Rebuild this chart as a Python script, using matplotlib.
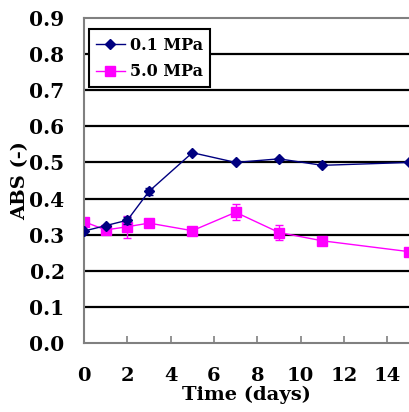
import matplotlib
matplotlib.use("Agg")
import matplotlib.pyplot as plt
from matplotlib.lines import Line2D

# данные
days_lo = [0, 1, 2, 3, 5, 7, 9, 11, 15]
abs_lo = [0.31, 0.325, 0.34, 0.42, 0.527, 0.50, 0.51, 0.492, 0.50]
err_lo = [0, 0, 0.01, 0.01, 0, 0, 0, 0, 0]

days_hi = [0, 1, 2, 3, 5, 7, 9, 11, 15]
abs_hi = [0.336, 0.313, 0.322, 0.332, 0.311, 0.362, 0.306, 0.283, 0.253]
err_hi = [0, 0, 0.03, 0, 0, 0.022, 0.02, 0, 0]

yticks = [0.0, 0.1, 0.2, 0.3, 0.4, 0.5, 0.6, 0.7, 0.8, 0.9]
xticks = [0, 2, 4, 6, 8, 10, 12, 14]

plt.rcParams["font.family"] = ["DejaVu Serif"]
plt.rcParams["font.weight"] = "bold"

fig = plt.figure(figsize=(4.09, 4.12), dpi=100)
ax = fig.add_axes([84 / 409, 1 - 343 / 412, 1 - 84 / 409, (343 - 18) / 412])

for y in yticks[1:-1]:
    ax.axhline(y, color="black", lw=1.6, zorder=1)

ax.errorbar(days_lo, abs_lo, yerr=err_lo, color="#000080", marker="D", ms=5,
            lw=1.0, capsize=3, elinewidth=1, zorder=3)
ax.errorbar(days_hi, abs_hi, yerr=err_hi, color="#FF00FF", marker="s", ms=7,
            lw=1.0, capsize=3, elinewidth=1, zorder=2)

ax.set_xlim(0, 15)
ax.set_ylim(0, 0.9)
ax.set_yticks(yticks)
ax.set_yticklabels([f"{v:.1f}" for v in yticks], fontsize=14.5, fontweight="bold")
ax.set_xticks(xticks)
ax.set_xticklabels([str(v) for v in xticks], fontsize=14, fontweight="bold")
ax.tick_params(axis="x", direction="in", length=5, width=1.2, color="0.5", pad=17)
ax.tick_params(axis="y", length=0, pad=14)

for side in ("left", "bottom", "top"):
    ax.spines[side].set_color("0.5")
    ax.spines[side].set_linewidth(1.5)
ax.spines["right"].set_visible(False)

ax.set_xlabel("Time (days)", fontsize=14, fontweight="bold", labelpad=1)
ax.set_ylabel("ABS (-)", fontsize=14, fontweight="bold", labelpad=0)

handles = [
    Line2D([], [], color="#000080", marker="D", ms=5, lw=1.0),
    Line2D([], [], color="#FF00FF", marker="s", ms=7, lw=1.0),
]
leg = ax.legend(handles, ["0.1 MPa", "5.0 MPa"], loc="upper left",
                bbox_to_anchor=(0.015, 0.965), fancybox=False, framealpha=1,
                edgecolor="black", fontsize=11.5, handlelength=1.8,
                borderpad=0.45, labelspacing=0.6, handletextpad=0.3,
                borderaxespad=0)
leg.get_frame().set_linewidth(1.5)
for t in leg.get_texts():
    t.set_fontweight("bold")

fig.savefig("out.png", dpi=100)
